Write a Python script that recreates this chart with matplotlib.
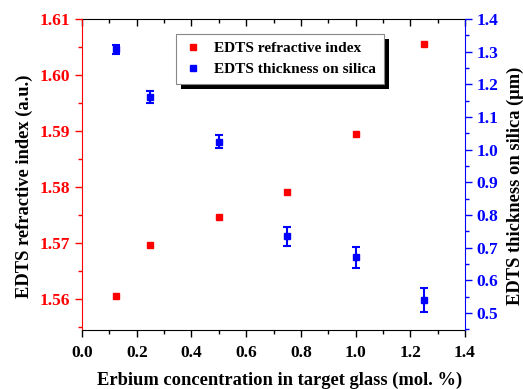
import matplotlib
matplotlib.use("Agg")
import matplotlib.pyplot as plt
from matplotlib.ticker import MultipleLocator
from matplotlib.patches import Rectangle
from matplotlib.lines import Line2D

conc = [0.125, 0.25, 0.5, 0.75, 1.0, 1.25]
refr_index = [1.5606, 1.5697, 1.5747, 1.5791, 1.5894, 1.6056]
thickness = [1.307, 1.162, 1.024, 0.734, 0.670, 0.540]
thickness_err = [0.015, 0.019, 0.020, 0.029, 0.032, 0.036]

xtick_vals = [0, 0.2, 0.4, 0.6, 0.8, 1.0, 1.2, 1.4]
xtick_labels = ['0.0', '0.2', '0.4', '0.6', '0.8', '1.0', '1.2', '1.4']
ltick_vals = [1.56, 1.57, 1.58, 1.59, 1.60, 1.61]
ltick_labels = ['1.56', '1.57', '1.58', '1.59', '1.60', '1.61']
rtick_vals = [0.5, 0.6, 0.7, 0.8, 0.9, 1.0, 1.1, 1.2, 1.3, 1.4]
rtick_labels = ['0.5', '0.6', '0.7', '0.8', '0.9', '1.0', '1.1', '1.2', '1.3', '1.4']

plt.rcParams['font.family'] = ['Liberation Serif', 'DejaVu Serif']
plt.rcParams['font.weight'] = 'bold'

RED = '#ff0000'
BLUE = '#0000ff'

fig = plt.figure(figsize=(5.23, 3.89), dpi=100)
ax = fig.add_axes([0.157, 0.152, 0.732, 0.799])
ax2 = ax.twinx()

ax.plot(conc, refr_index, 's', color=RED, markersize=4.5, linestyle='none')
ax2.errorbar(conc, thickness, yerr=thickness_err, fmt='s', color=BLUE,
             markersize=4.5, capsize=3, elinewidth=1.5, capthick=1.5)

ax.set_xlim(0, 1.4)
ax.set_ylim(1.5545, 1.61)
ax2.set_ylim(0.448, 1.4)

ax.set_xticks(xtick_vals)
ax.set_xticklabels(xtick_labels)
ax.xaxis.set_minor_locator(MultipleLocator(0.1))
ax.set_yticks(ltick_vals)
ax.set_yticklabels(ltick_labels)
ax.yaxis.set_minor_locator(MultipleLocator(0.005))
ax2.set_yticks(rtick_vals)
ax2.set_yticklabels(rtick_labels)
ax2.yaxis.set_minor_locator(MultipleLocator(0.05))

LS = 12.5
ax.tick_params(axis='x', which='both', direction='out', top=False, labelsize=LS, colors='black', pad=6)
ax.tick_params(axis='x', which='major', length=5, width=1)
ax.tick_params(axis='x', which='minor', length=3, width=1)
ax.tick_params(axis='y', which='both', direction='out', colors=RED, labelsize=LS)
ax.tick_params(axis='y', which='major', length=5, width=1)
ax.tick_params(axis='y', which='minor', length=3, width=1)
ax2.tick_params(axis='y', which='both', direction='out', colors=BLUE, labelsize=LS)
ax2.tick_params(axis='y', which='major', length=5, width=1)
ax2.tick_params(axis='y', which='minor', length=3, width=1)

sec = ax.secondary_xaxis('top')
sec.set_xticks(xtick_vals)
sec.xaxis.set_minor_locator(MultipleLocator(0.1))
sec.tick_params(axis='x', which='both', direction='in', labeltop=False, colors='black')
sec.tick_params(axis='x', which='major', length=5, width=1)
sec.tick_params(axis='x', which='minor', length=3, width=1)
sec.spines['top'].set_color('black')

ax.spines['left'].set_color(RED)
ax2.spines['left'].set_visible(False)
ax2.spines['right'].set_color(BLUE)
ax.spines['right'].set_visible(False)
ax.spines['bottom'].set_color('black')
ax.spines['top'].set_visible(False)
ax2.spines['top'].set_visible(False)
ax2.spines['bottom'].set_visible(False)

ax.set_xlabel('Erbium concentration in target glass (mol. %)', fontsize=13.3, fontweight='bold')
ax.set_ylabel('EDTS refractive index (a.u.)', fontsize=13.3, fontweight='bold')
ax2.set_ylabel('EDTS thickness on silica (\u03bcm)', fontsize=13.3, fontweight='bold')
ax.xaxis.set_label_coords(0.517, -0.134)
ax.yaxis.set_label_coords(-0.128, 0.463)
ax2.yaxis.set_label_coords(1.108, 0.463)

hr = Line2D([], [], marker='s', color=RED, markersize=4.5, linestyle='none')
hb = Line2D([], [], marker='s', color=BLUE, markersize=4.5, linestyle='none')
leg = ax2.legend([hr, hb], ['EDTS refractive index', 'EDTS thickness on silica'],
                 loc='upper left', bbox_to_anchor=(0.245, 0.952), fontsize=11.1,
                 frameon=True, fancybox=False, framealpha=1, edgecolor='#888888',
                 handlelength=1.2, handletextpad=0.8, borderpad=0.5, labelspacing=0.45,
                 markerscale=1.0, borderaxespad=0)
leg.get_frame().set_linewidth(0.8)
leg.set_zorder(10)

fig.canvas.draw()
bb = leg.get_window_extent()
off = 5
shadow = Rectangle((bb.x0 + off, bb.y0 - off), bb.width, bb.height,
                   transform=None, facecolor='black', edgecolor='none', zorder=9)
ax2.add_artist(shadow)

fig.savefig('out.png', dpi=100)
